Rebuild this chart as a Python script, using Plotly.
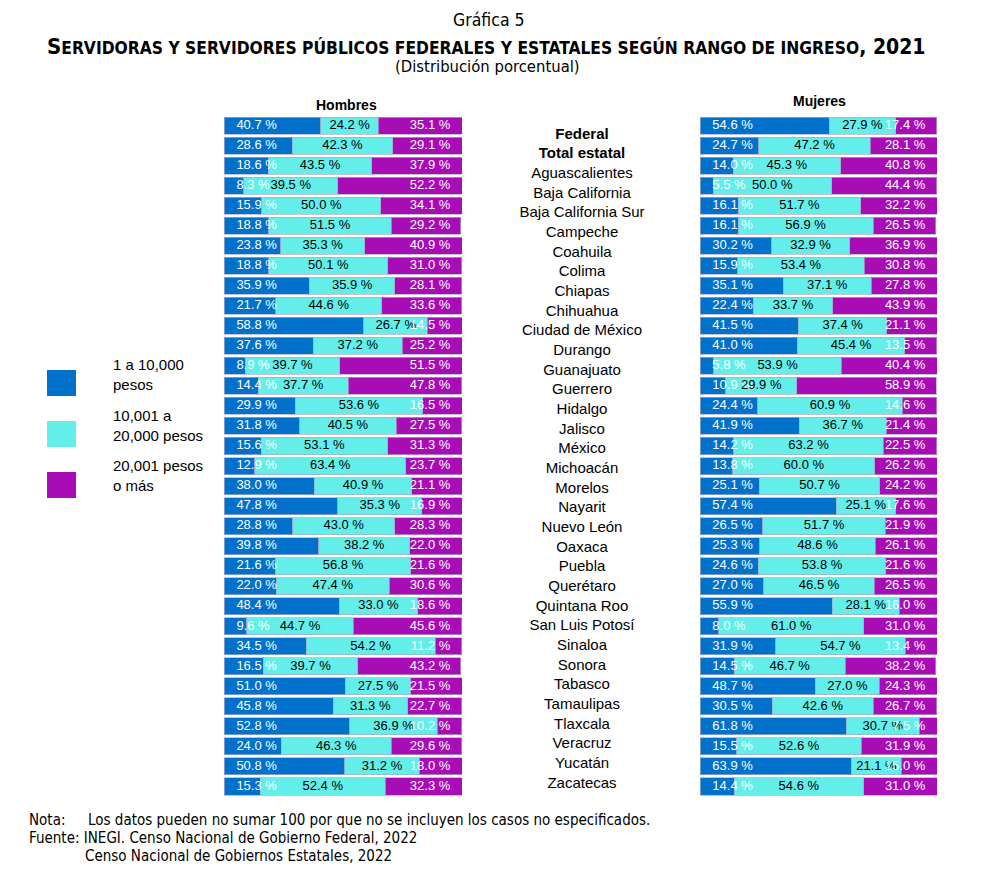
import plotly.graph_objects as go

categories = ["Federal", "Total estatal", "Aguascalientes", "Baja California", "Baja California Sur",
              "Campeche", "Coahuila", "Colima", "Chiapas", "Chihuahua", "Ciudad de México", "Durango",
              "Guanajuato", "Guerrero", "Hidalgo", "Jalisco", "México", "Michoacán", "Morelos", "Nayarit",
              "Nuevo León", "Oaxaca", "Puebla", "Querétaro", "Quintana Roo", "San Luis Potosí", "Sinaloa",
              "Sonora", "Tabasco", "Tamaulipas", "Tlaxcala", "Veracruz", "Yucatán", "Zacatecas"]

series_names = ["1 a 10,000<br>pesos", "10,001 a<br>20,000 pesos", "20,001 pesos<br>o más"]

hombres_low = [40.7, 28.6, 18.6, 8.3, 15.9, 18.8, 23.8, 18.8, 35.9, 21.7, 58.8, 37.6, 8.9, 14.4, 29.9, 31.8, 15.6,
               12.9, 38.0, 47.8, 28.8, 39.8, 21.6, 22.0, 48.4, 9.6, 34.5, 16.5, 51.0, 45.8, 52.8, 24.0, 50.8, 15.3]
hombres_mid = [24.2, 42.3, 43.5, 39.5, 50.0, 51.5, 35.3, 50.1, 35.9, 44.6, 26.7, 37.2, 39.7, 37.7, 53.6, 40.5, 53.1,
               63.4, 40.9, 35.3, 43.0, 38.2, 56.8, 47.4, 33.0, 44.7, 54.2, 39.7, 27.5, 31.3, 36.9, 46.3, 31.2, 52.4]
hombres_high = [35.1, 29.1, 37.9, 52.2, 34.1, 29.2, 40.9, 31.0, 28.1, 33.6, 14.5, 25.2, 51.5, 47.8, 16.5, 27.5, 31.3,
                23.7, 21.1, 16.9, 28.3, 22.0, 21.6, 30.6, 18.6, 45.6, 11.2, 43.2, 21.5, 22.7, 10.2, 29.6, 18.0, 32.3]

mujeres_low = [54.6, 24.7, 14.0, 5.5, 16.1, 16.1, 30.2, 15.9, 35.1, 22.4, 41.5, 41.0, 5.8, 10.9, 24.4, 41.9, 14.2,
               13.8, 25.1, 57.4, 26.5, 25.3, 24.6, 27.0, 55.9, 8.0, 31.9, 14.5, 48.7, 30.5, 61.8, 15.5, 63.9, 14.4]
mujeres_mid = [27.9, 47.2, 45.3, 50.0, 51.7, 56.9, 32.9, 53.4, 37.1, 33.7, 37.4, 45.4, 53.9, 29.9, 60.9, 36.7, 63.2,
               60.0, 50.7, 25.1, 51.7, 48.6, 53.8, 46.5, 28.1, 61.0, 54.7, 46.7, 27.0, 42.6, 30.7, 52.6, 21.1, 54.6]
mujeres_high = [17.4, 28.1, 40.8, 44.4, 32.2, 26.5, 36.9, 30.8, 27.8, 43.9, 21.1, 13.5, 40.4, 58.9, 14.6, 21.4, 22.5,
                26.2, 24.2, 17.6, 21.9, 26.1, 21.6, 26.5, 16.0, 31.0, 13.4, 38.2, 24.3, 26.7, 7.5, 31.9, 15.0, 31.0]

colors = ["#0072CC", "#63EEE9", "#A80DB5"]
text_colors = ["white", "black", "white"]

# page offset of the figure inside the browser window (default body margin)
OX, OY = 8, 8
W, H = 986, 866
FONT = "Liberation Sans, Arial, sans-serif"
NARROW = "Liberation Sans Narrow, Arial Narrow, DejaVu Sans Condensed, Liberation Sans, sans-serif"


def px(X):
    return (X - OX) / W


def py(Y):
    return (H - (Y - OY)) / H


def fmt(vals):
    return [f"{v:.1f} %" for v in vals]


fig = go.Figure()

panels = [("x", "y", hombres_low, hombres_mid, hombres_high),
          ("x2", "y2", mujeres_low, mujeres_mid, mujeres_high)]

for xa, ya, low, mid, high in panels:
    for k, vals in enumerate([low, mid, high]):
        fig.add_trace(go.Bar(
            y=categories, x=vals, orientation="h", xaxis=xa, yaxis=ya,
            marker=dict(color=colors[k], line=dict(color="rgba(170,170,205,0.7)", width=1)),
            name=series_names[k], showlegend=False, hoverinfo="skip"))
    pad_l, pad_r = 5.2, 4.9
    # first range labels: anchored at the left edge
    fig.add_trace(go.Scatter(
        y=categories, x=[pad_l] * len(low), mode="text", text=fmt(low), textposition="middle right",
        textfont=dict(color=text_colors[0], size=13, family=FONT), xaxis=xa, yaxis=ya,
        showlegend=False, hoverinfo="skip"))
    # second range labels: centred in their segment
    fig.add_trace(go.Scatter(
        y=categories, x=[a + b / 2 for a, b in zip(low, mid)], mode="text", text=fmt(mid),
        textposition="middle center",
        textfont=dict(color=text_colors[1], size=13, family=FONT), xaxis=xa, yaxis=ya,
        showlegend=False, hoverinfo="skip"))
    # third range labels: anchored at the right edge
    fig.add_trace(go.Scatter(
        y=categories, x=[100 - pad_r] * len(high), mode="text", text=fmt(high), textposition="middle left",
        textfont=dict(color=text_colors[2], size=13, family=FONT), xaxis=xa, yaxis=ya,
        showlegend=False, hoverinfo="skip"))

# Category names in the middle column
label_text = [f"<b>{c}</b>" if i < 2 else c for i, c in enumerate(categories)]
fig.add_trace(go.Scatter(
    y=categories, x=[0.5] * len(categories), mode="text", text=label_text, textposition="middle center",
    textfont=dict(color="black", size=15, family=FONT), xaxis="x3", yaxis="y3",
    showlegend=False, hoverinfo="skip"))

ydom = [py(796.5), py(115.5)]
ydom3 = [py(793.8), py(125.2)]
axis_off = dict(showgrid=False, zeroline=False, showticklabels=False, showline=False, ticks="")

fig.update_layout(
    width=W, height=H, margin=dict(l=0, r=0, t=0, b=0),
    paper_bgcolor="white", plot_bgcolor="white",
    barmode="stack", bargap=0.15,
    font=dict(family=FONT, color="black"),
    xaxis=dict(domain=[px(224), px(462)], range=[0, 100], fixedrange=True, **axis_off),
    yaxis=dict(domain=ydom, range=[33.5, -0.5], fixedrange=True, **axis_off),
    xaxis2=dict(domain=[px(700), px(937)], range=[0, 100], anchor="y2", fixedrange=True, **axis_off),
    yaxis2=dict(domain=ydom, range=[33.5, -0.5], anchor="x2", fixedrange=True, **axis_off),
    xaxis3=dict(domain=[px(470), px(694)], range=[0, 1], anchor="y3", fixedrange=True, **axis_off),
    yaxis3=dict(domain=ydom3, range=[33.5, -0.5], anchor="x3", fixedrange=True, **axis_off),
    showlegend=False,
)

ann = []
ann.append(dict(text="Gráfica 5", x=px(489), y=py(20), xref="paper", yref="paper",
                showarrow=False, font=dict(size=17.5, family=NARROW), xanchor="center", yanchor="middle"))
title = ("<b><span style='font-size:22px'>S</span>"
         "<span style='font-size:17.3px'>ERVIDORAS Y SERVIDORES PÚBLICOS FEDERALES Y ESTATALES "
         "SEGÚN RANGO DE INGRESO</span>, 2021</b>")
ann.append(dict(text=title, x=px(486), y=py(46), xref="paper", yref="paper",
                showarrow=False, font=dict(size=21, family=NARROW), xanchor="center", yanchor="middle"))
ann.append(dict(text="(Distribución porcentual)", x=px(487), y=py(67), xref="paper", yref="paper",
                showarrow=False, font=dict(size=16.5, family=NARROW), xanchor="center", yanchor="middle"))
ann.append(dict(text="<b>Hombres</b>", x=px(346), y=py(105), xref="paper", yref="paper",
                showarrow=False, font=dict(size=14, family=FONT), xanchor="center", yanchor="middle"))
ann.append(dict(text="<b>Mujeres</b>", x=px(819), y=py(101), xref="paper", yref="paper",
                showarrow=False, font=dict(size=14, family=FONT), xanchor="center", yanchor="middle"))

# Legend
shapes = []
leg_y = [383, 434, 485]
for k in range(3):
    shapes.append(dict(type="rect", xref="paper", yref="paper",
                       x0=px(47), x1=px(76), y0=py(leg_y[k] + 13), y1=py(leg_y[k] - 13),
                       fillcolor=colors[k], line=dict(width=0)))
    ann.append(dict(text=series_names[k], x=px(111), y=py(leg_y[k] - 9), xref="paper", yref="paper",
                    showarrow=False, font=dict(size=15, family=FONT), xanchor="left", yanchor="middle",
                    align="left"))

# Notes
notes = [("Nota:", 27, 820),
         ("Los datos pueden no sumar 100 por que no se incluyen los casos no especificados.", 86, 820),
         ("Fuente: INEGI. Censo Nacional de Gobierno Federal, 2022", 27, 838),
         ("Censo Nacional de Gobiernos Estatales, 2022", 83, 856)]
for t, xp, yp in notes:
    ann.append(dict(text=t, x=px(xp), y=py(yp), xref="paper", yref="paper", showarrow=False,
                    font=dict(size=15, family=NARROW), xanchor="left", yanchor="middle"))

fig.update_layout(annotations=ann, shapes=shapes)
fig.write_html("out.html")
